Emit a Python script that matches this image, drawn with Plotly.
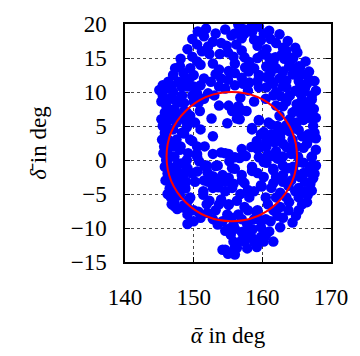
import plotly.graph_objects as go

# Scatter data: mean right ascension (alpha bar) and declination (delta bar), degrees
alpha_deg = [
    150.6, 153.2, 154.6, 157.4, 158.5, 159.5, 161.2, 163.7, 165.1, 150.5,
    149.1, 152.1, 152.3, 148.1, 149.8, 153.7, 157.0, 157.4, 160.2, 157.0,
    158.8, 159.3, 160.6, 162.0, 163.0, 163.5, 161.9, 163.2, 157.0, 157.4,
    158.1, 156.0, 160.6, 161.2, 162.0, 164.2, 165.5, 164.6, 165.8, 167.6,
    166.5, 165.3, 163.5, 164.8, 166.0, 167.2, 157.0, 158.1, 159.3, 159.5,
    157.9, 160.6, 161.6, 156.0, 153.2, 155.1, 157.2, 156.0, 154.6, 153.7,
    152.1, 150.5, 149.1, 148.6, 150.7, 151.5, 155.5, 154.0, 151.0, 150.0,
    148.8, 152.5, 155.0, 156.2, 162.5, 164.5, 166.3, 166.8, 164.0, 162.6,
    163.0, 161.6, 163.5, 165.5, 164.4, 165.5, 163.9, 165.3, 161.6, 160.6,
    159.3, 161.2, 156.0, 156.5, 157.7, 156.7, 159.5, 160.9, 160.2, 158.5,
    161.2, 162.0, 163.0, 163.5, 163.0, 163.5, 164.8, 166.0, 166.7, 166.9,
    165.3, 166.7, 166.0, 167.2, 165.5, 166.0, 166.9, 156.0, 157.0, 159.3,
    159.5, 160.6, 162.0, 163.0, 160.2, 158.5, 157.0, 159.3, 161.6, 163.0,
    164.2, 164.4, 166.2, 165.8, 167.2, 166.7, 166.0, 167.4, 166.7, 166.5,
    167.2, 166.0, 166.9, 164.4, 163.9, 165.0, 164.0, 165.0, 164.5, 165.5,
    164.2, 167.0, 164.0, 162.5, 162.0, 165.5, 167.5, 167.8, 167.6, 157.4,
    159.9, 161.3, 163.0, 165.3, 166.2, 165.3, 163.9, 162.6, 161.6, 163.0,
    160.5, 159.1, 157.4, 158.1, 156.3, 159.8, 162.6, 157.9, 157.0, 158.8,
    161.6, 160.5, 156.3, 156.0, 167.4, 166.5, 166.2, 164.8, 163.5, 164.4,
    165.3, 159.3, 157.9, 155.1, 157.0, 158.8, 155.1, 156.0, 157.0, 157.4,
    156.0, 154.6, 158.4, 160.2, 159.8, 162.0, 157.9, 159.8, 161.6, 157.0,
    155.6, 154.6, 160.5, 162.0, 146.7, 147.7, 146.7, 147.2, 148.6, 149.1,
    149.1, 150.0, 150.7, 151.9, 151.4, 152.8, 154.0, 153.2, 155.1, 154.9,
    152.1, 150.2, 154.6, 154.2, 155.8, 148.6, 149.5, 150.0, 152.8, 154.2,
    153.7, 152.3, 151.4, 152.8, 154.6, 149.8, 153.5, 155.5, 145.0, 145.5,
    146.0, 146.5, 147.0, 146.0, 145.8, 146.5, 147.2, 147.8, 148.3, 146.0,
    145.8, 146.3, 147.0, 147.5, 148.0, 145.7, 146.2, 147.0, 147.5, 148.3,
    146.0, 146.5, 147.2, 148.0, 146.2, 146.8, 147.5, 148.2, 146.5, 147.0,
    147.8, 148.5, 147.2, 148.0, 148.8, 147.6, 148.5, 149.3, 146.3, 147.0,
    147.8, 148.5, 148.0, 147.3, 145.3, 148.6, 147.7, 150.0, 150.9, 153.7,
    155.1, 148.6, 149.5, 148.1, 150.5, 151.6, 150.5, 152.8, 154.0, 155.1,
    146.3, 147.7, 149.1, 150.5, 151.9, 153.5, 154.2, 155.1, 155.6, 152.8,
    148.1, 147.0, 152.6, 154.9, 156.3, 157.0, 156.0, 159.5, 161.3, 158.5,
    152.8, 154.6, 156.7, 158.4, 159.8, 160.6, 161.6, 162.6, 159.8, 160.6,
    163.0, 163.5, 161.6, 158.5, 156.0, 153.2, 151.6, 150.5, 149.8, 155.6,
    151.0, 149.5, 150.0, 149.0, 151.5, 154.0, 158.0, 159.5, 162.0, 160.5,
    # left band
    145.5, 146.8, 145.3, 145.5, 145.4, 145.6, 145.8, 145.9, 146.2, 146.8,
    149.0, 148.9, 149.0, 149.2, 149.0, 149.5, 149.8, 148.2, 149.4, 149.5,
    150.5, 146.8, 147.3, 148.8, 148.7, 147.3,
    # top arc
    151.2, 152.8, 153.8, 154.8, 155.8, 158.5, 159.8, 161.0, 160.0, 161.0,
    162.8, 163.8, 164.8, 158.8, 157.5, 155.0, 152.8, 151.0, 149.8, 151.8,
    156.5, 160.6, 162.5, 163.0, 166.8,
    # right band
    167.8, 165.0, 167.8, 165.6, 165.8, 167.6, 164.6, 167.8, 165.2, 167.8,
    164.8, 166.6, 167.2, 165.8, 164.9, 163.8, 162.2, 163.8, 164.6, 162.8,
    163.8, 162.2, 161.4,
    # bottom
    151.0, 152.0, 153.5, 155.8, 156.5, 157.8, 158.6, 159.6, 161.2, 161.0,
    159.2, 157.8, 155.4, 155.0, 156.8, 155.8, 153.6, 151.5, 160.8, 162.6,
    158.8, 160.2,
    # interior
    150.2, 151.5, 153.0, 156.8, 158.8, 159.2, 157.6, 155.2, 152.0, 150.8,
    148.8, 160.8, 161.8, 162.2,
]
delta_deg = [
    18.9, 18.6, 19.2, 19.2, 20.0, 19.6, 17.8, 17.5, 15.8, 17.0,
    16.3, 16.7, 15.6, 14.9, 15.2, 13.3, 19.3, 18.6, 18.6, 17.9,
    17.7, 16.8, 16.3, 17.2, 16.5, 16.1, 15.1, 14.9, 16.1, 15.1,
    14.4, 14.2, 13.7, 12.8, 13.5, 13.7, 13.7, 12.6, 12.6, 11.6,
    11.2, 11.6, 10.7, 10.2, 10.0, 9.5, 12.1, 11.4, 11.6, 10.7,
    10.2, 10.7, 9.5, 12.8, 12.6, 13.1, 11.2, 11.0, 10.5, 10.8,
    9.8, 9.8, 10.8, 8.4, 8.4, 18.2, 18.3, 17.2, 14.0, 12.5,
    12.0, 11.5, 15.8, 17.0, 18.5, 15.0, 14.5, 13.0, 9.5, 9.4,
    10.8, 11.2, 11.7, 11.2, 12.6, 12.9, 13.8, 13.8, 14.3, 13.8,
    15.0, 11.7, 18.6, 7.9, 7.2, 6.0, 5.8, 5.5, 4.1, 4.5,
    3.7, 3.1, 2.4, 5.1, 7.9, 8.6, 7.2, 7.6, 6.2, 8.3,
    4.4, 3.0, 1.8, 0.4, -0.3, -1.9, -1.0, 0.4, 1.6, 1.6,
    0.4, 2.0, 1.3, -0.8, -0.3, -1.0, -2.2, -1.9, -1.5, -2.2,
    0.9, 3.0, 10.5, 8.9, 8.9, 7.0, 5.9, 5.0, 3.8, 2.4,
    0.5, -0.4, -1.8, 7.0, 9.4, 5.5, 4.2, 2.0, -1.0, -2.5,
    -3.0, -3.5, 6.0, 6.5, 8.0, 9.8, 7.5, 3.2, -2.0, -3.4,
    -3.9, -4.1, -3.2, -4.1, -3.2, -5.5, -6.2, -6.9, -7.4, -8.5,
    -8.7, -7.6, -6.9, -5.5, -6.0, -9.9, -9.9, -10.8, -11.8, -12.0,
    -12.0, -11.1, -12.9, -13.9, -2.7, -6.2, -4.6, -4.6, -5.5, -9.2,
    -7.4, -7.4, -7.4, -6.5, -8.7, -8.7, -10.1, -10.1, -10.6, -12.0,
    -12.9, -13.2, -11.3, -12.0, -11.3, -5.5, -4.4, -3.7, -3.4, -3.0,
    -4.1, -4.6, -5.5, -2.5, -3.0, -4.6, -5.5, -6.2, -6.6, -8.0,
    -9.4, -9.0, -7.6, -6.5, -5.1, -3.7, -5.8, -7.4, -6.6, -8.0,
    -3.2, -3.2, -10.4, -13.2, -12.0, -3.7, -5.5, -7.4, -8.7, -9.0,
    -6.5, -6.0, -4.6, -4.1, -3.2, -2.0, -2.8, -8.5, 10.3, 9.5,
    10.5, 9.0, 10.0, 8.0, 7.0, 6.0, 7.5, 8.5, 9.5, 5.0,
    4.0, 3.0, 4.5, 5.5, 6.5, 2.0, 1.0, 2.0, 3.0, 4.0,
    0.0, -1.0, 0.5, 1.5, -2.0, -3.5, -1.5, -0.5, -4.2, -5.0,
    -3.5, -2.5, -6.8, -5.2, -4.2, -7.2, -7.0, -5.8, 11.5, 12.5,
    11.5, 12.8, 13.8, 13.5, 8.6, 7.2, 6.2, 8.6, 7.2, 8.0,
    8.0, 3.9, 3.0, 2.0, 2.0, 2.0, 0.9, 0.9, 1.1, 0.9,
    0.2, -0.5, -1.2, -1.7, -0.8, -0.8, -2.2, -2.6, -1.2, -2.4,
    -2.2, -2.6, 6.1, 5.4, 6.1, 7.3, 7.3, 5.9, 5.2, 4.7,
    3.5, 1.0, 0.3, 1.9, 1.9, 2.8, 3.8, 3.3, 3.8, -0.4,
    0.5, 1.9, -1.3, -1.6, -1.3, -0.9, -0.9, 0.5, 2.8, 7.2,
    4.5, 5.5, 10.8, 7.0, 12.0, 12.0, 13.0, 12.5, 10.0, 9.0,
    # left band
    11.0, 11.0, 6.0, 5.0, 3.0, 1.0, -1.0, -3.0, -5.0, -6.5,
    -6.8, -3.2, 0.0, 1.0, 4.8, 6.5, 9.5, 10.8, 12.0, 13.5,
    14.5, 7.0, 8.8, 5.8, -1.8, -4.3,
    # top arc
    16.0, 17.4, 15.6, 16.8, 15.2, 18.8, 17.6, 19.0, 15.5, 15.0,
    15.5, 15.2, 16.5, 13.5, 13.6, 11.8, 14.2, 11.0, 17.8, 19.3,
    19.9, 12.2, 12.0, 13.0, 11.8,
    # right band
    10.2, 8.2, 6.2, 6.8, 3.5, 4.0, 1.8, 1.5, 0.5, -0.8,
    -2.0, -5.2, -4.5, -6.5, -8.2, -7.4, -8.2, -3.8, 4.8, 4.2,
    -1.2, 0.2, 0.6,
    # bottom
    -8.5, -7.8, -9.5, -9.5, -8.0, -9.5, -10.2, -8.8, -9.0, -10.5,
    -12.8, -13.0, -11.0, -13.8, -5.0, -3.5, -4.0, -3.0, -6.5, -4.8,
    -4.6, -2.5,
    # interior
    5.5, 9.0, 9.5, 9.2, 8.6, 2.8, 0.6, -0.2, -1.8, -0.2,
    -0.4, 0.8, 2.6, 5.0,
]

# Red reference circle (centre and radius in degrees)
circle_center = (155.55, 0.5)
circle_radius = 9.5

x_ticks = [140, 150, 160, 170]
y_ticks = [-15, -10, -5, 0, 5, 10, 15, 20]

FONT = "Liberation Serif"

fig = go.Figure()
fig.add_trace(go.Scatter(
    x=alpha_deg, y=delta_deg, mode="markers",
    marker=dict(color="#0000FF", size=10.5, line=dict(width=0)),
    showlegend=False, cliponaxis=True,
))

cx, cy = circle_center
fig.add_shape(type="circle", xref="x", yref="y",
              x0=cx - circle_radius, x1=cx + circle_radius,
              y0=cy - circle_radius, y1=cy + circle_radius,
              line=dict(color="#FF0000", width=2), layer="above")

axis_common = dict(
    showline=True, linecolor="black", linewidth=1.5, mirror="ticks",
    ticks="inside", ticklen=5, tickwidth=1, tickcolor="black",
    showgrid=True, gridcolor="rgb(70,70,70)", gridwidth=1, griddash="dot",
    zeroline=False, tickfont=dict(family=FONT, size=23, color="black"),
)

fig.update_xaxes(range=[140, 170], tickvals=x_ticks, ticklabelstandoff=14,
                 title=dict(text="<i>ᾱ</i> in deg", font=dict(family=FONT, size=23, color="black"), standoff=18),
                 **axis_common)
fig.update_yaxes(range=[-15, 20], tickvals=y_ticks, ticklabelstandoff=12,
                 title=dict(text="<i>δ̄</i> in deg", font=dict(family=FONT, size=23, color="black"), standoff=18),
                 **axis_common)

fig.update_layout(
    width=360, height=356,
    margin=dict(l=125, r=20, t=17, b=88),
    paper_bgcolor="white", plot_bgcolor="white",
    font=dict(family=FONT, color="black"),
)

fig.write_html("out.html")
